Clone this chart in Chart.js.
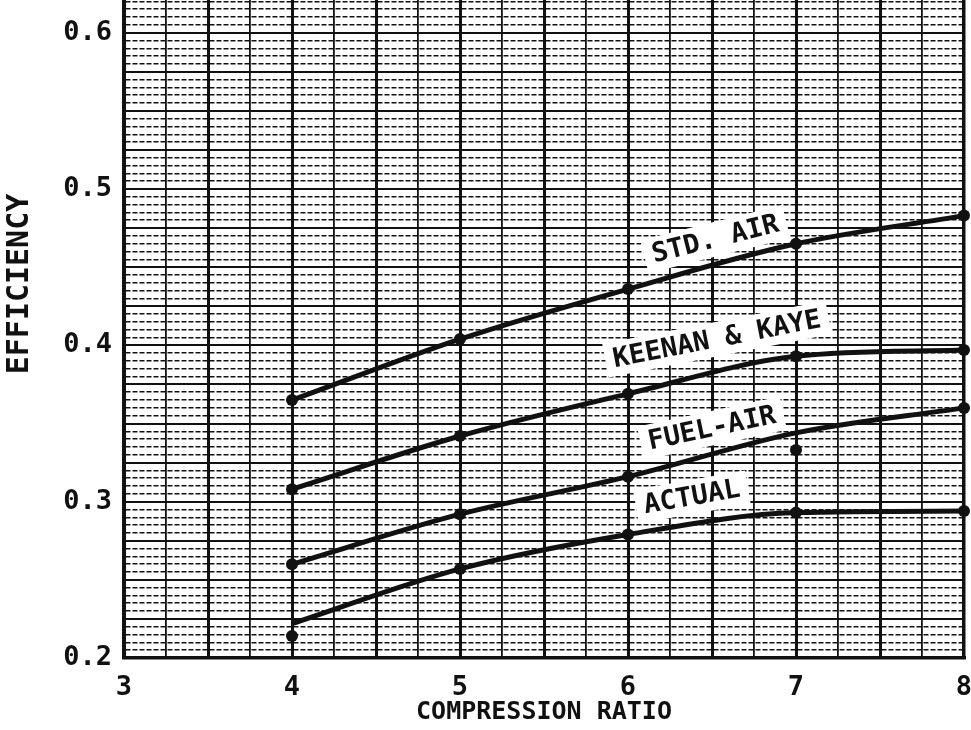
<!DOCTYPE html>
<html>
<head>
<meta charset="utf-8">
<script src="https://cdn.jsdelivr.net/npm/chart.js@4.4.1/dist/chart.umd.min.js"></script>
<style>
  html, body { margin: 0; padding: 0; background: #fff; overflow: hidden; }
  #wrap { position: relative; width: 971px; height: 730px; overflow: hidden; }
  #wrap canvas { position: absolute; left: 0; top: -96px; }
</style>
</head>
<body>
<div id="wrap"><canvas id="chart" width="971" height="826"></canvas></div>
<script>
// Data
const ratios = [4, 5, 6, 7, 8];
const stdAir = [0.365, 0.404, 0.436, 0.465, 0.483];
const keenanKaye = [0.308, 0.342, 0.369, 0.393, 0.397];
const fuelAir = [0.260, 0.292, 0.316, 0.344, 0.360];
const actual = [0.222, 0.257, 0.279, 0.293, 0.294];

// measured points that sit off the drawn curves
const offCurveX = [4, 7];
const offCurveY = [0.214, 0.333];

const xTicks = [3, 4, 5, 6, 7, 8];
const yTicks = [0.2, 0.3, 0.4, 0.5, 0.6];

// curve captions
const lineLabels = ['STD. AIR', 'KEENAN & KAYE', 'FUEL-AIR', 'ACTUAL'];
const labelX = [6.52, 6.53, 6.50, 6.38];
const labelY = [0.468, 0.404, 0.347, 0.303];
const labelAngle = [-14, -11, -12, -10];

const FONT = '"DejaVu Sans Mono", monospace';
const INK = '#111';

const pts = arr => ratios.map((x, i) => ({ x: x, y: arr[i] }));

const captionPlugin = {
    id: 'captions',
    afterDatasetsDraw(chart) {
        const { ctx, scales } = chart;
        ctx.save();
        ctx.font = 'bold 27px ' + FONT;
        ctx.textAlign = 'center';
        ctx.textBaseline = 'middle';
        lineLabels.forEach((txt, i) => {
            const px = scales.x.getPixelForValue(labelX[i]);
            const py = scales.y.getPixelForValue(labelY[i]);
            const w = ctx.measureText(txt).width;
            ctx.save();
            ctx.translate(px, py);
            ctx.rotate(labelAngle[i] * Math.PI / 180);
            ctx.fillStyle = '#fff';
            ctx.fillRect(-w / 2 - 8, -17, w + 16, 34);
            ctx.fillStyle = INK;
            ctx.fillText(txt, 0, 1);
            ctx.restore();
        });
        ctx.restore();
    }
};

const lineStyle = {
    borderColor: INK,
    backgroundColor: INK,
    borderWidth: 5,
    pointBorderWidth: 0,
    cubicInterpolationMode: 'monotone',
    clip: false,
    fill: false
};

new Chart(document.getElementById('chart'), {
    type: 'line',
    data: {
        datasets: [
            Object.assign({ data: pts(stdAir), pointRadius: 6 }, lineStyle),
            Object.assign({ data: pts(keenanKaye), pointRadius: 6 }, lineStyle),
            Object.assign({ data: pts(fuelAir), pointRadius: [6, 6, 6, 0, 6] }, lineStyle),
            Object.assign({ data: pts(actual), pointRadius: [0, 6, 6, 6, 6] }, lineStyle),
            {
                data: offCurveX.map((x, i) => ({ x: x, y: offCurveY[i] })),
                showLine: false, pointRadius: 6, pointBorderWidth: 0,
                backgroundColor: INK, borderColor: INK, clip: false
            }
        ]
    },
    options: {
        responsive: false,
        animation: false,
        events: [],
        layout: { padding: { left: 0, right: 7, top: 0, bottom: 0 } },
        plugins: { legend: { display: false }, tooltip: { enabled: false } },
        scales: {
            x: {
                type: 'linear',
                min: 3, max: 8,
                afterFit: s => { s.height = 72; s.paddingLeft = 0; s.paddingRight = 0; },
                ticks: {
                    stepSize: 0.25,
                    autoSkip: false,
                    maxRotation: 0,
                    padding: 14,
                    color: INK,
                    font: { family: FONT, size: 27, weight: 'bold' },
                    callback: v => xTicks.includes(v) ? String(v) : ''
                },
                grid: {
                    drawTicks: false,
                    color: INK,
                    lineWidth: c => {
                        const v = c.tick ? c.tick.value : 0;
                        if (v === 8) return 3.5;
                        return Math.abs(v * 2 - Math.round(v * 2)) < 1e-6 ? 3 : 1.8;
                    }
                },
                border: { color: INK, width: 3.5 },
                title: {
                    display: true,
                    text: 'COMPRESSION RATIO',
                    color: INK,
                    font: { family: FONT, size: 25, weight: 'bold' },
                    padding: { top: 0, bottom: 3 }
                }
            },
            y: {
                type: 'linear',
                min: 0.2, max: 0.6785,
                afterFit: s => { s.width = 124; s.paddingTop = 0; s.paddingBottom = 0; },
                ticks: {
                    stepSize: 0.005,
                    maxTicksLimit: 200,
                    autoSkip: false,
                    padding: 12,
                    color: INK,
                    font: { family: FONT, size: 27, weight: 'bold' },
                    callback: v => yTicks.some(t => Math.abs(t - v) < 1e-6) ? v.toFixed(1) : ''
                },
                grid: {
                    drawTicks: false,
                    color: INK,
                    lineWidth: c => {
                        const v = c.tick ? c.tick.value : 0;
                        return Math.abs(v * 40 - Math.round(v * 40)) < 1e-6 ? 2 : 1.6;
                    }
                },
                border: {
                    color: INK, width: 3.5,
                    dash: c => {
                        const v = c.tick ? c.tick.value : 0;
                        return Math.abs(v * 40 - Math.round(v * 40)) < 1e-6 ? [] : [5, 2];
                    }
                },
                title: {
                    display: true,
                    text: 'EFFICIENCY',
                    color: INK,
                    font: { family: FONT, size: 30, weight: 'bold' },
                    padding: { top: 2, bottom: 0 }
                }
            }
        }
    },
    plugins: [captionPlugin]
});
</script>
</body>
</html>
